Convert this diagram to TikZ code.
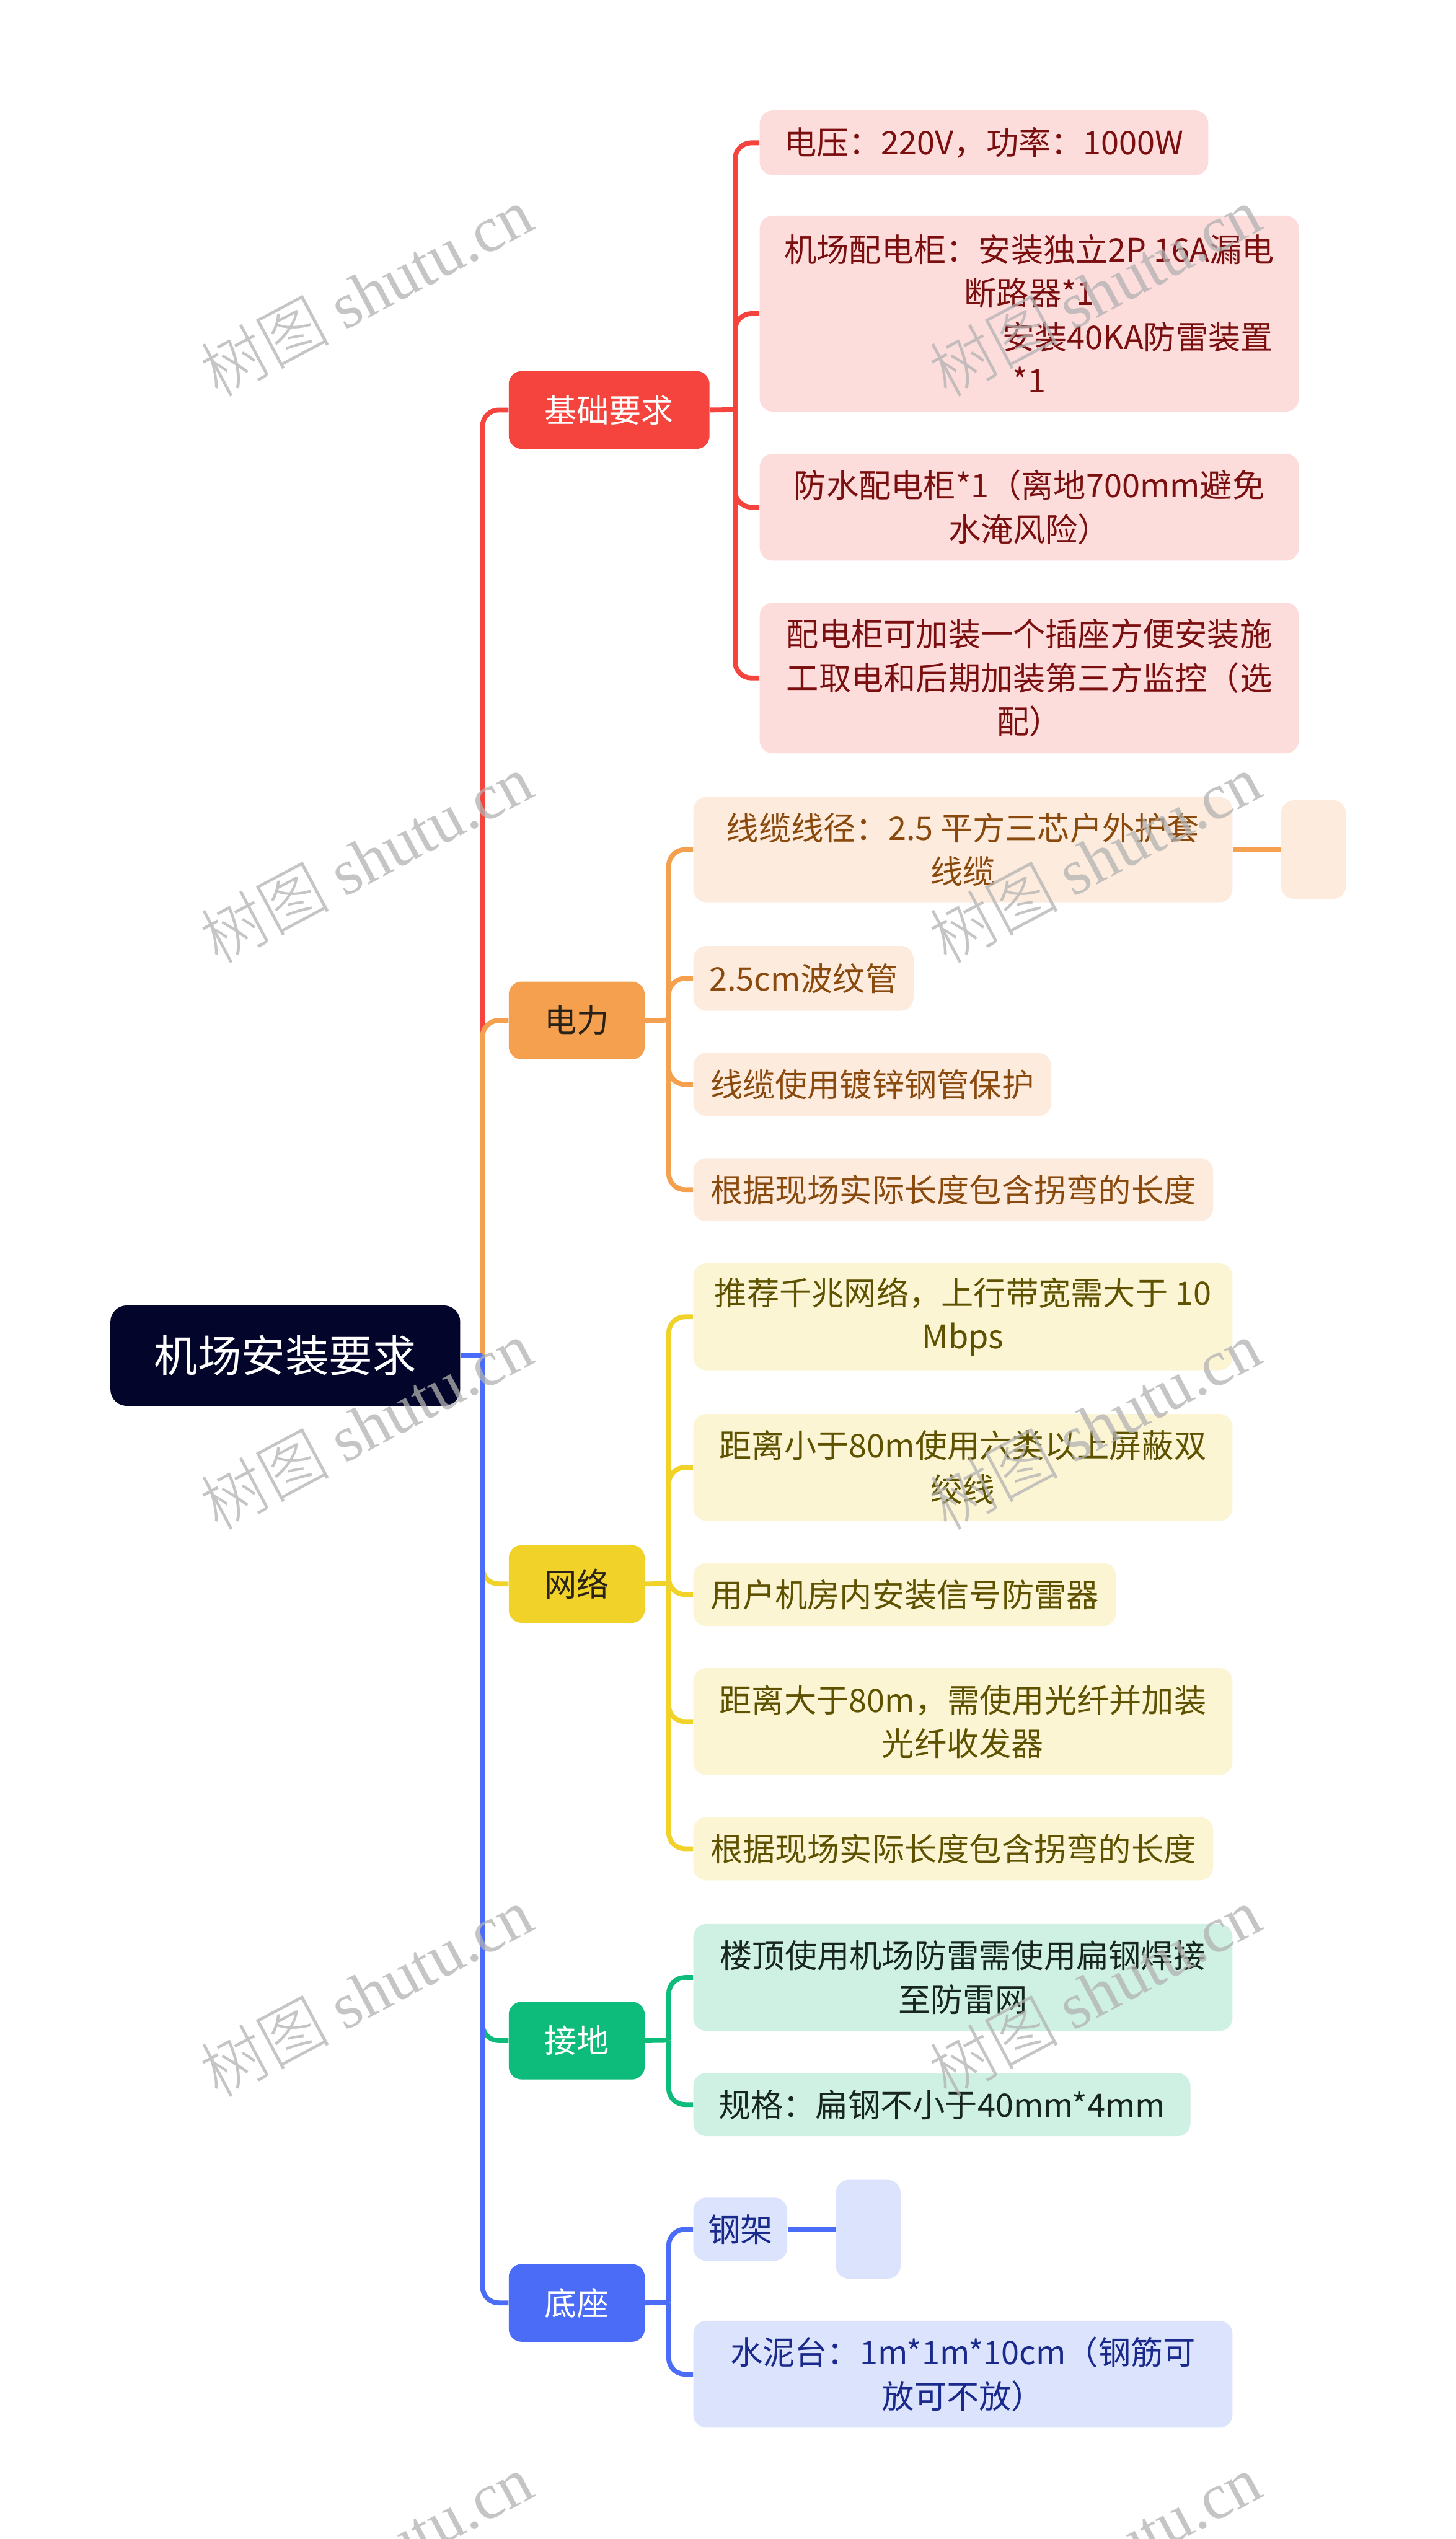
\documentclass[tikz,border=0pt]{standalone}
\usepackage{fontspec}
\setmainfont{Noto Sans CJK SC}
\newfontfamily\wmcjk{Noto Sans CJK SC Light}
\newfontfamily\wmlat{Liberation Serif}
\definecolor{rootc}{HTML}{03052A}
\definecolor{cR}{HTML}{F5443D}
\definecolor{cO}{HTML}{F5A04E}
\definecolor{cY}{HTML}{F0D228}
\definecolor{cG}{HTML}{0DBB7A}
\definecolor{cB}{HTML}{4A6CF7}
\definecolor{lR}{HTML}{FDDCDC}
\definecolor{lO}{HTML}{FDEBDD}
\definecolor{lY}{HTML}{FCF5D3}
\definecolor{lG}{HTML}{CFF1E3}
\definecolor{lB}{HTML}{DCE3FC}
\definecolor{tR}{HTML}{7B0F0F}
\definecolor{tO}{HTML}{8A4A0E}
\definecolor{tY}{HTML}{5E5200}
\definecolor{tG}{HTML}{17261F}
\definecolor{tB}{HTML}{1A2A8C}
\definecolor{tD}{HTML}{2A2218}
\begin{document}
\begin{tikzpicture}[x=1pt,y=-1pt,
  base/.style={rectangle, anchor=north west, inner sep=0pt, align=center, font=\fontsize{20}{27}\selectfont},
  rootbox/.style={base, fill=rootc, rounded corners=10pt, text=white, font=\fontsize{27}{32}\selectfont},
  brbox/.style={base, fill=#1, rounded corners=8pt, minimum height=48pt},
  chbox/.style={base, rounded corners=8pt},
  chR/.style={chbox, fill=lR, text=tR},
  chO/.style={chbox, fill=lO, text=tO},
  chY/.style={chbox, fill=lY, text=tY},
  chG/.style={chbox, fill=lG, text=tG},
  chB/.style={chbox, fill=lB, text=tB},
  ln/.style={draw=#1, line width=3pt, rounded corners=10pt},
  wm/.style={rotate=28, text=black!30, text opacity=0.75, font=\fontsize{40}{46}\selectfont}
]
\useasboundingbox (0,0) rectangle (899,1568);
\fill[white] (0,0) rectangle (899,1568);
\clip (0,0) rectangle (899,1568);

% root
\node[rootbox, minimum width=216pt, minimum height=62pt] (root) at (68,806) {机场安装要求};

% branches
\node[brbox=cR, text=white, minimum width=124pt] (b1) at (314,229) {基础要求};
\node[brbox=cO, text=tD, minimum width=84pt] (b2) at (314,606) {电力};
\node[brbox=cY, text=tD, minimum width=84pt] (b3) at (314,954) {网络};
\node[brbox=cG, text=white, minimum width=84pt] (b4) at (314,1236) {接地};
\node[brbox=cB, text=white, minimum width=84pt] (b5) at (314,1398) {底座};

% red children
\node[chR, minimum width=277pt, minimum height=40pt] (c11) at (469,68) {电压：220V，功率：1000W};
\node[chR, minimum width=333pt, minimum height=121pt] (c12) at (469,133) {机场配电柜：安装独立2P 16A漏电\\断路器*1\\\hspace*{134pt}安装40KA防雷装置\\*1};
\node[chR, minimum width=333pt, minimum height=66pt] (c13) at (469,280) {防水配电柜*1（离地700mm避免\\水淹风险）};
\node[chR, minimum width=333pt, minimum height=93pt] (c14) at (469,372) {配电柜可加装一个插座方便安装施\\工取电和后期加装第三方监控（选\\配）};

% orange children
\node[chO, minimum width=333pt, minimum height=65pt] (c21) at (428,492) {线缆线径：2.5 平方三芯户外护套\\线缆};
\node[chO, minimum width=40pt, minimum height=61pt] (c21e) at (791,494) {};
\node[chO, minimum width=136pt, minimum height=40pt] (c22) at (428,584) {2.5cm波纹管};
\node[chO, minimum width=221pt, minimum height=39pt] (c23) at (428,650) {线缆使用镀锌钢管保护};
\node[chO, minimum width=321pt, minimum height=39pt] (c24) at (428,715) {根据现场实际长度包含拐弯的长度};

% yellow children
\node[chY, minimum width=333pt, minimum height=66pt] (c31) at (428,780) {推荐千兆网络，上行带宽需大于 10\\Mbps};
\node[chY, minimum width=333pt, minimum height=66pt] (c32) at (428,873) {距离小于80m使用六类以上屏蔽双\\绞线};
\node[chY, minimum width=261pt, minimum height=39pt] (c33) at (428,965) {用户机房内安装信号防雷器};
\node[chY, minimum width=333pt, minimum height=66pt] (c34) at (428,1030) {距离大于80m，需使用光纤并加装\\光纤收发器};
\node[chY, minimum width=321pt, minimum height=39pt] (c35) at (428,1122) {根据现场实际长度包含拐弯的长度};

% green children
\node[chG, minimum width=333pt, minimum height=66pt] (c41) at (428,1188) {楼顶使用机场防雷需使用扁钢焊接\\至防雷网};
\node[chG, minimum width=307pt, minimum height=39pt] (c42) at (428,1280) {规格：扁钢不小于40mm*4mm};

% blue children
\node[chB, minimum width=58pt, minimum height=39pt] (c51) at (428,1357) {钢架};
\node[chB, minimum width=40pt, minimum height=61pt] (c51e) at (516,1346) {};
\node[chB, minimum width=333pt, minimum height=66pt] (c52) at (428,1433) {水泥台：1m*1m*10cm（钢筋可\\放可不放）};

% spine connectors
\coordinate (sp) at (298,837);
\draw[ln=cR] (sp) |- (b1.west);
\draw[ln=cO] (sp) |- (b2.west);
\draw[ln=cY] (sp) |- (b3.west);
\draw[ln=cG] (sp) |- (b4.west);
\draw[ln=cB] (sp) |- (b5.west);
\draw[ln=cB] (root.east) -- (sp);

% red branch
\coordinate (j1) at (454,253);
\draw[ln=cR] (b1.east) -- (j1);
\foreach \c in {c11,c12,c13,c14} \draw[ln=cR] (j1) |- (\c.west);
% orange branch
\coordinate (j2) at (413,630);
\draw[ln=cO] (b2.east) -- (j2);
\foreach \c in {c21,c22,c23,c24} \draw[ln=cO] (j2) |- (\c.west);
\draw[ln=cO] (c21.east) -- (c21e.west);
% yellow branch
\coordinate (j3) at (413,978);
\draw[ln=cY] (b3.east) -- (j3);
\foreach \c in {c31,c32,c33,c34,c35} \draw[ln=cY] (j3) |- (\c.west);
% green branch
\coordinate (j4) at (413,1260);
\draw[ln=cG] (b4.east) -- (j4);
\foreach \c in {c41,c42} \draw[ln=cG] (j4) |- (\c.west);
% blue branch
\coordinate (j5) at (413,1422);
\draw[ln=cB] (b5.east) -- (j5);
\foreach \c in {c51,c52} \draw[ln=cB] (j5) |- (\c.west);
\draw[ln=cB] (c51.east) -- (c51e.west);

% watermarks
\node[wm] (w1) at (226,180) {\wmcjk 树图 \wmlat shutu.cn};
\node[wm] (w2) at (676,180) {\wmcjk 树图 \wmlat shutu.cn};
\node[wm] (w3) at (226,530) {\wmcjk 树图 \wmlat shutu.cn};
\node[wm] (w4) at (676,530) {\wmcjk 树图 \wmlat shutu.cn};
\node[wm] (w5) at (226,880) {\wmcjk 树图 \wmlat shutu.cn};
\node[wm] (w6) at (676,880) {\wmcjk 树图 \wmlat shutu.cn};
\node[wm] (w7) at (226,1230) {\wmcjk 树图 \wmlat shutu.cn};
\node[wm] (w8) at (676,1230) {\wmcjk 树图 \wmlat shutu.cn};
\node[wm] (w9) at (226,1580) {\wmcjk 树图 \wmlat shutu.cn};
\node[wm] (w10) at (676,1580) {\wmcjk 树图 \wmlat shutu.cn};
\end{tikzpicture}
\end{document}
